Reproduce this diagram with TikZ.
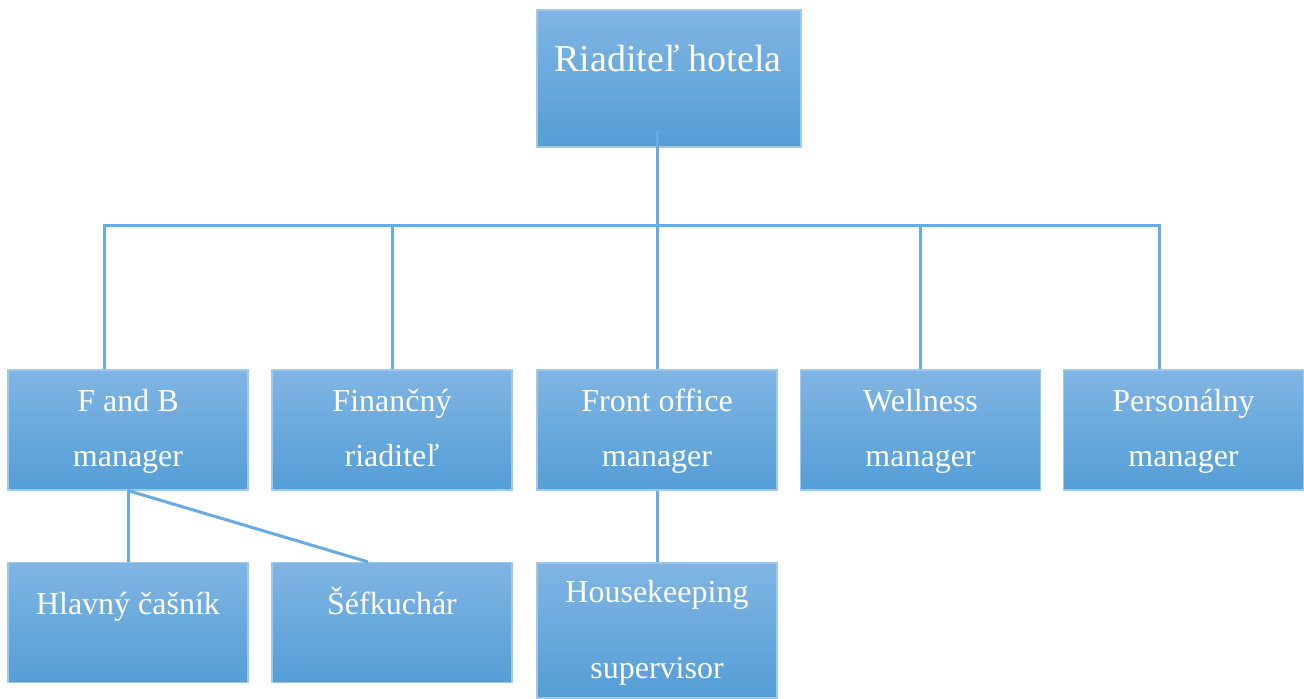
\documentclass[tikz,border=0pt]{standalone}
\usepackage{fontspec}
\setmainfont{Liberation Serif}
\usetikzlibrary{positioning}
\definecolor{boxtop}{RGB}{128,181,227}
\definecolor{boxbot}{RGB}{84,158,214}
\definecolor{boxedge}{RGB}{158,201,236}
\definecolor{linkblue}{RGB}{104,170,226}
\tikzset{
  box/.style={rectangle, draw=boxedge, line width=0.6pt, top color=boxtop, bottom color=boxbot,
    minimum width=120pt, minimum height=60pt, inner sep=0pt},
  topbox/.style={box, minimum width=132pt, minimum height=68.5pt},
  txt/.style={text=white, inner sep=0pt, align=center, font=\fontsize{16}{27.5}\selectfont},
  toptxt/.style={text=white, inner sep=0pt, font=\fontsize{19}{23}\selectfont},
  link/.style={linkblue, line width=1.5pt}
}
\begin{document}
\begin{tikzpicture}[x=0.5pt, y=-0.5pt]
  \useasboundingbox (0,0) rectangle (1304,699);
  % top
  \node[topbox] (dir) at (669,78.5) {};
  \node[toptxt, anchor=base] (dirt) at (668,72) {Riaditeľ hotela};
  % second row
  \node[box] (fb) at (128,430) {};
  \node[box] (fin) at (392,430) {};
  \node[box] (fo) at (657,430) {};
  \node[box] (well) at (920.5,430) {};
  \node[box] (pers) at (1183.5,430) {};
  \node[txt, anchor=north] (fbt) at (128,389) {F and B\\manager};
  \node[txt, anchor=north] (fint) at (392,389) {Finančný\\riaditeľ};
  \node[txt, anchor=north] (fot) at (657,389) {Front office\\manager};
  \node[txt, anchor=north] (wellt) at (920.5,389) {Wellness\\manager};
  \node[txt, anchor=north] (perst) at (1183.5,389) {Personálny\\manager};
  % third row
  \node[box] (cas) at (128,622.5) {};
  \node[box] (sef) at (392,622.5) {};
  \node[box, minimum height=67.5pt] (hk) at (657,630.5) {};
  \node[txt, anchor=base] (cast) at (128,614) {Hlavný čašník};
  \node[txt, anchor=base] (seft) at (392,614) {Šéfkuchár};
  \node[txt, anchor=north, font=\fontsize{16}{38}\selectfont] (hkt) at (657,580) {Housekeeping\\supervisor};
  % connectors
  \coordinate (bus) at (657,226);
  \draw[link] ([xshift=-6pt,yshift=8.5pt]dir.south) -- (bus);
  \draw[link] ([xshift=-12pt]fb.north) |- (bus);
  \draw[link] (fin.north) |- (bus);
  \draw[link] (fo.north) -- (bus);
  \draw[link] (well.north) |- (bus);
  \draw[link] ([xshift=-12pt]pers.north) |- (bus);
  \draw[link] (fb.south) -- (cas.north);
  \draw[link] (fb.south) -- ([xshift=-12pt]sef.north);
  \draw[link] (fo.south) -- (hk.north);
\end{tikzpicture}
\end{document}
